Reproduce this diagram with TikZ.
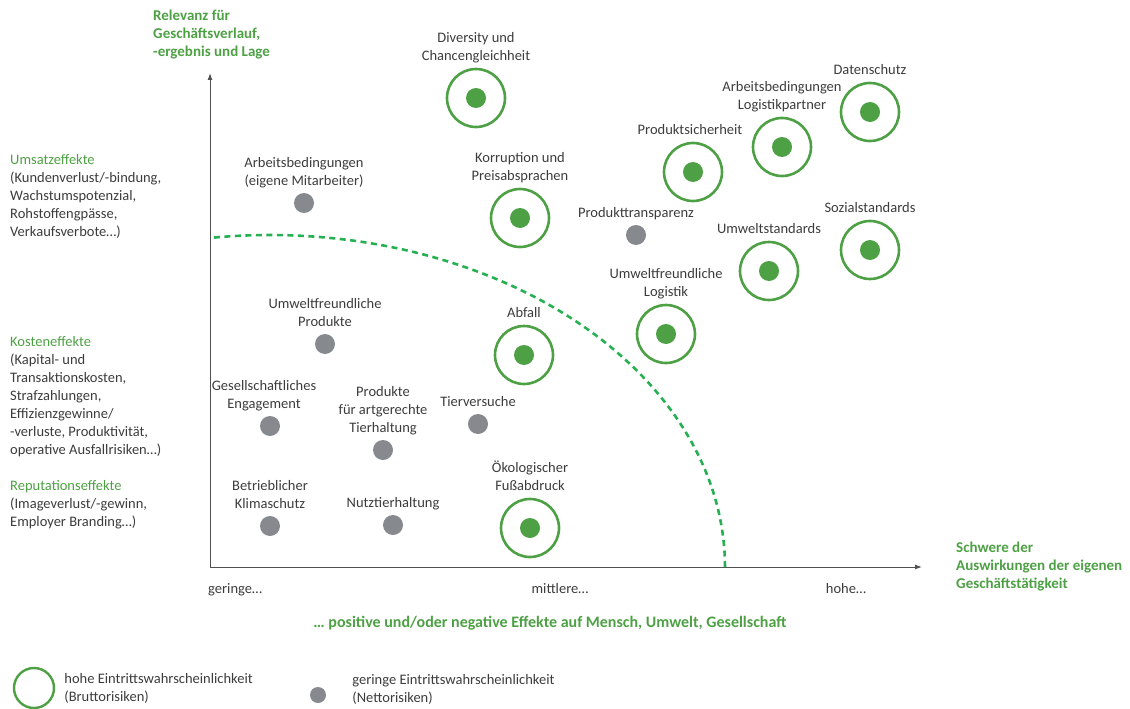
\documentclass[tikz,border=0pt]{standalone}
\usepackage{fontspec}
\setmainfont{Carlito}
\usetikzlibrary{positioning,arrows.meta}
\definecolor{grn}{RGB}{77,160,68}
\definecolor{dashgrn}{RGB}{38,176,82}
\definecolor{dotgray}{RGB}{134,137,141}
\definecolor{txt}{RGB}{60,60,60}
\definecolor{axisgray}{RGB}{80,80,80}
\tikzset{
  brutto/.style={circle,draw=grn,line width=2.6pt,minimum size=58pt,inner sep=0pt,
    path picture={\fill[grn] (path picture bounding box.center) circle (10pt);}},
  legring/.style={circle,draw=grn,line width=2.4pt,minimum size=40pt,inner sep=0pt},
  netto/.style={circle,fill=dotgray,minimum size=20pt,inner sep=0pt},
  legdot/.style={circle,fill=dotgray,minimum size=16pt,inner sep=0pt},
  lbl/.style={align=center,text=txt,font=\fontsize{14.5}{18}\selectfont,inner sep=0pt,text depth=4pt},
  side/.style={align=left,text=txt,font=\fontsize{14.5}{18}\selectfont,inner sep=0pt},
  headline/.style={align=left,text=grn,font=\fontsize{15}{18}\selectfont\bfseries,inner sep=0pt},
  axis/.style={draw=axisgray,line width=1pt,-{Latex[length=7pt,width=5pt]}},
  bound/.style={draw=dashgrn,line width=2.6pt,dash pattern=on 6pt off 4.5pt}
}
\begin{document}
\begin{tikzpicture}[x=1pt,y=-1pt,node distance=3pt]
\useasboundingbox (0,0) rectangle (1130,709);

% axes
\coordinate (o) at (210,567);
\coordinate (y_top) at (210,73);
\coordinate (x_end) at (922,567);
\draw[axis] (o) -- (y_top);
\draw[axis] (o) -- (x_end);
\draw[bound] plot[domain=0:97.6,samples=80] ({270+455*cos(\x)},{567-332*sin(\x)});

% axis titles
\node[headline,anchor=north west](t_y) at (153,10) {Relevanz für\\Geschäftsverlauf,\\-ergebnis und Lage};
\node[headline,anchor=north west](t_x) at (956,542) {Schwere der\\Auswirkungen der eigenen\\Geschäftstätigkeit};
\node[headline,anchor=base,font=\fontsize{16}{18}\selectfont\bfseries](t_eff) at (550,627) {… positive und/oder negative Effekte auf Mensch, Umwelt, Gesellschaft};
\node[side,anchor=base west](s_low) at (208,593) {geringe…};
\node[side,anchor=base](s_mid) at (560,593) {mittlere…};
\node[side,anchor=base](s_high) at (846,593) {hohe…};

% effects on the left
\node[side,anchor=north west](e_ums) at (10,154) {{\color{grn}Umsatzeffekte}\\(Kundenverlust/-bindung,\\Wachstumspotenzial,\\Rohstoffengpässe,\\Verkaufsverbote…)};
\node[side,anchor=north west](e_kost) at (10,336) {{\color{grn}Kosteneffekte}\\(Kapital- und\\Transaktionskosten,\\Strafzahlungen,\\Effizienzgewinne/\\-verluste, Produktivität,\\operative Ausfallrisiken…)};
\node[side,anchor=north west](e_rep) at (10,480) {{\color{grn}Reputationseffekte}\\(Imageverlust/-gewinn,\\Employer Branding…)};

% high probability
\node[brutto](r_div) at (476,98) {};
\node[lbl](l_div)[above=of r_div]{Diversity und\\Chancengleichheit};
\node[brutto](r_korr) at (520,218) {};
\node[lbl](l_korr)[above=of r_korr]{Korruption und\\Preisabsprachen};
\node[brutto](r_psich) at (693,172) {};
\node[lbl](l_psich)[above=of r_psich,xshift=-3pt]{Produktsicherheit};
\node[brutto](r_alog) at (782,147) {};
\node[lbl](l_alog)[above=of r_alog]{Arbeitsbedingungen\\Logistikpartner};
\node[brutto](r_dsch) at (870,112) {};
\node[lbl](l_dsch)[above=of r_dsch]{Datenschutz};
\node[brutto](r_soz) at (870,250) {};
\node[lbl](l_soz)[above=of r_soz]{Sozialstandards};
\node[brutto](r_uwstd) at (769,271) {};
\node[lbl](l_uwstd)[above=of r_uwstd]{Umweltstandards};
\node[brutto](r_uwlog) at (666,334) {};
\node[lbl](l_uwlog)[above=of r_uwlog]{Umweltfreundliche\\Logistik};
\node[brutto](r_abf) at (524,355) {};
\node[lbl](l_abf)[above=of r_abf]{Abfall};
\node[brutto](r_oeko) at (530,528) {};
\node[lbl](l_oeko)[above=of r_oeko]{Ökologischer\\Fußabdruck};

% low probability
\node[netto](n_amit) at (304,203) {};
\node[lbl](l_amit)[above=of n_amit]{Arbeitsbedingungen\\(eigene Mitarbeiter)};
\node[netto](n_ptr) at (636,235) {};
\node[lbl](l_ptr)[above=of n_ptr]{Produkttransparenz};
\node[netto](n_uwp) at (325,344) {};
\node[lbl](l_uwp)[above=of n_uwp]{Umweltfreundliche\\Produkte};
\node[netto](n_ges) at (270,426) {};
\node[lbl](l_ges)[above=of n_ges,xshift=-6pt]{Gesellschaftliches\\Engagement};
\node[netto](n_tierh) at (383,450) {};
\node[lbl](l_tierh)[above=of n_tierh]{Produkte\\für artgerechte\\Tierhaltung};
\node[netto](n_tierv) at (478,424) {};
\node[lbl](l_tierv)[above=of n_tierv]{Tierversuche};
\node[netto](n_klima) at (270,526) {};
\node[lbl](l_klima)[above=of n_klima]{Betrieblicher\\Klimaschutz};
\node[netto](n_nutz) at (393,525) {};
\node[lbl](l_nutz)[above=of n_nutz]{Nutztierhaltung};

% legend
\node[legring](g_brutto) at (34,688) {};
\node[side](g_brutto_t)[right=9pt of g_brutto]{hohe Eintrittswahrscheinlichkeit\\(Bruttorisiken)};
\node[legdot](g_netto) at (318,695) {};
\node[side](g_netto_t)[right=26pt of g_netto,yshift=6pt]{geringe Eintrittswahrscheinlichkeit\\(Nettorisiken)};

\end{tikzpicture}
\end{document}
